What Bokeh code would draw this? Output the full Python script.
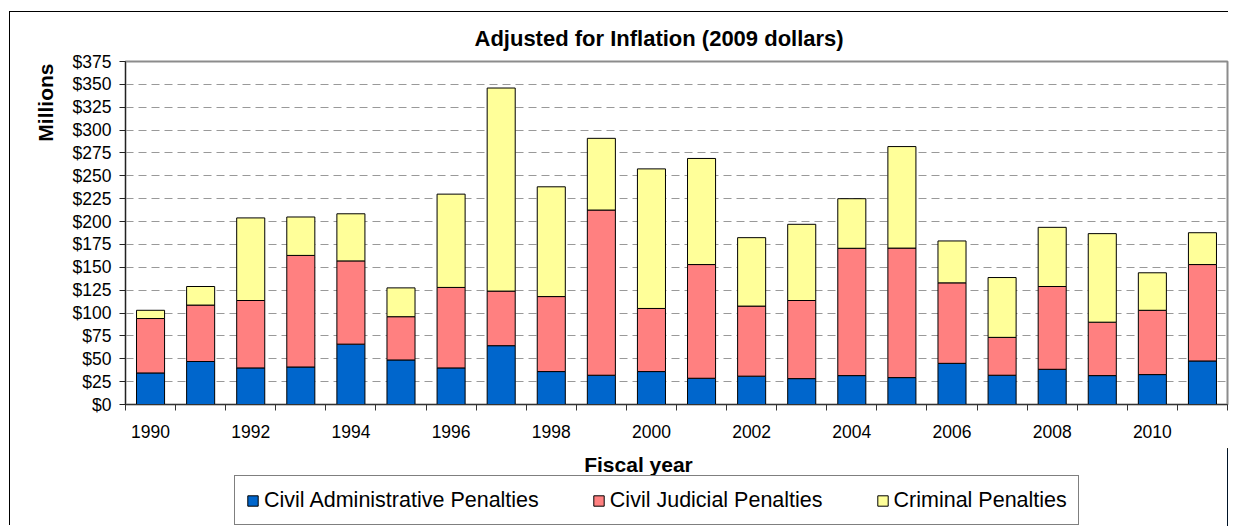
from bokeh.plotting import figure
from bokeh.layouts import column
from bokeh.models import (ColumnDataSource, FixedTicker, NumeralTickFormatter,
                          Title, Legend, LegendItem, Label)
from bokeh.embed import file_html
from bokeh.resources import INLINE

# ---------------- data ----------------
years = list(range(1990, 2012))
civil_admin = [34.5, 47.0, 40.0, 41.0, 66.0, 48.7, 40.0, 64.3, 36.0, 32.0, 36.0,
               28.7, 31.0, 28.3, 31.6, 29.4, 45.0, 32.0, 38.5, 31.6, 32.7, 47.6]
civil_judicial = [59.5, 61.7, 73.7, 122.0, 91.0, 47.3, 88.0, 59.7, 82.0, 180.6, 69.0,
                  124.3, 76.6, 85.4, 139.2, 141.6, 88.0, 41.4, 90.5, 58.4, 70.3, 105.4]
criminal = [9.0, 20.3, 90.3, 42.0, 51.5, 31.5, 102.0, 222.0, 120.0, 78.4, 152.6,
            116.0, 74.8, 83.3, 54.2, 111.0, 45.8, 65.4, 64.7, 96.8, 41.0, 34.8]
series_names = ["Civil Administrative Penalties", "Civil Judicial Penalties",
                "Criminal Penalties"]
colors = ["#0066CC", "#FF8080", "#FFFF99"]
y_ticks = list(range(0, 376, 25))
title_text = "Adjusted for Inflation  (2009 dollars)"
x_title = "Fiscal year"
y_title = "Millions"

FONT = "Liberation Sans"
W = 1219
H1, H2 = 436, 78
ML, MR, MT, MB = 115, 2, 47, 44
n = len(years)

source = ColumnDataSource(dict(
    x=list(range(n)),
    adm=civil_admin,
    jud=civil_judicial,
    crim=criminal,
))
stack_cols = ["adm", "jud", "crim"]

# ---------------- main chart ----------------
p = figure(width=W, height=H1, x_range=(-0.5, n - 0.5), y_range=(0, 375),
           output_backend="svg", toolbar_location=None,
           min_border_left=ML, min_border_right=MR,
           min_border_top=MT, min_border_bottom=MB)
p.background_fill_color = "white"
p.border_fill_color = "white"
p.outline_line_color = "#8c8c8c"
p.outline_line_width = 2

p.vbar_stack(stack_cols, x="x", width=0.56, source=source,
             fill_color=colors, line_color="black", line_width=1)

p.title.text = title_text
p.title.align = "left"
p.title.offset = 349
p.title.text_font = FONT
p.title.text_font_size = "22px"
p.title.text_font_style = "bold"
p.title.text_color = "black"
p.title.standoff = 22

xa = p.xaxis[0]
xa.ticker = FixedTicker(ticks=[i for i in range(n) if years[i] % 2 == 0],
                        minor_ticks=[i - 0.5 for i in range(n + 1)])
xa.major_label_overrides = {i: str(years[i]) for i in range(n)}
xa.major_tick_out = 0
xa.major_tick_in = 0
xa.minor_tick_out = 6
xa.minor_tick_in = 0
xa.minor_tick_line_color = "#333333"
xa.axis_line_color = "#333333"
xa.major_label_text_font = FONT
xa.major_label_text_font_size = "17.5px"
xa.major_label_text_color = "black"
xa.major_label_standoff = 14

ya = p.yaxis[0]
ya.ticker = FixedTicker(ticks=y_ticks)
ya.formatter = NumeralTickFormatter(format="$0")
ya.major_tick_out = 6
ya.major_tick_in = 0
ya.minor_tick_line_color = None
ya.axis_line_color = "#222222"
ya.major_tick_line_color = "#222222"
ya.major_label_text_font = FONT
ya.major_label_text_font_size = "17.5px"
ya.major_label_text_color = "black"
ya.major_label_standoff = 8

p.xgrid.visible = False
p.ygrid.ticker = FixedTicker(ticks=y_ticks[1:-1])
p.ygrid.grid_line_color = "#999999"
p.ygrid.grid_line_dash = "8 5"
p.ygrid.grid_line_width = 1

p.add_layout(Title(text=y_title, align="right", offset=2, standoff=25,
                   text_font=FONT, text_font_size="21px", text_font_style="bold",
                   text_color="black"), "left")

# ---------------- x title + legend strip ----------------
# same stacked data, viewed outside its range, only feeds the legend swatches
q = figure(width=W, height=H2, x_range=(-3, -2), y_range=(0, 1),
           output_backend="svg", toolbar_location=None, title=None,
           x_axis_location=None, y_axis_location=None,
           min_border_left=0, min_border_right=0,
           min_border_top=0, min_border_bottom=0)
q.outline_line_color = None
q.background_fill_color = "white"
q.border_fill_color = "white"
q.grid.visible = False

proxies = q.vbar_stack(stack_cols, x="x", width=0.56, source=source,
                       fill_color=colors, line_color="black", line_width=1)

q.add_layout(Label(x=513, y=62, x_units="screen", y_units="screen",
                   text=x_title, text_font=FONT, text_font_size="21px",
                   text_font_style="bold", text_align="center",
                   text_baseline="middle", text_color="black"))

legend = Legend(items=[LegendItem(label=name, renderers=[r])
                       for name, r in zip(series_names, proxies)])
legend.orientation = "horizontal"
legend.location = (109, 1)
legend.label_text_font = FONT
legend.label_text_font_size = "21.5px"
legend.label_text_color = "black"
legend.label_height = 26
legend.glyph_width = 13
legend.glyph_height = 13
legend.label_standoff = 5
legend.spacing = 53
legend.padding = 11
legend.margin = 0
legend.border_line_color = "black"
legend.border_line_width = 1
legend.background_fill_color = "white"
legend.background_fill_alpha = 1.0
q.add_layout(legend, "center")

# outer chart frame: only its left and top edges fall inside the window
layout = column(p, q, spacing=0,
                styles={"box-shadow": "-1px -1px 0 0 black",
                        "transform": "translate(10px, 12px)"})

open("out.html", "w").write(file_html(layout, INLINE, title="Adjusted for Inflation"))
